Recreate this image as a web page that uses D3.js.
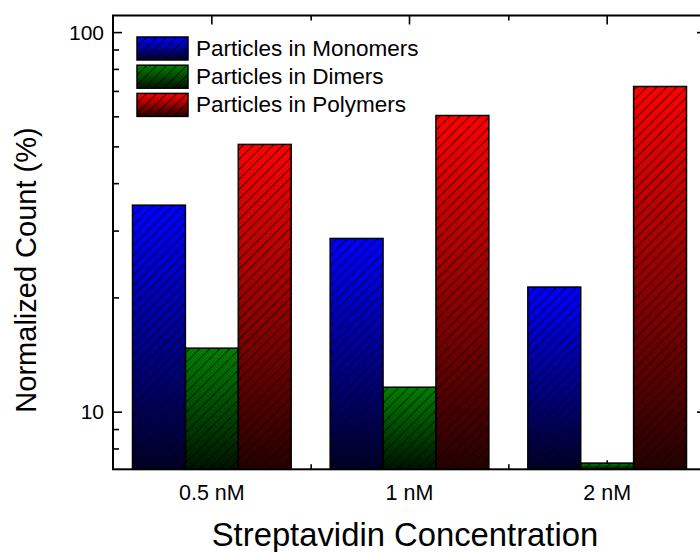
<!DOCTYPE html>
<html>
<head>
    <script src="https://d3js.org/d3.v7.min.js"></script>
    <style>
        body { margin: 0; background: #fff; }
        text { font-family: "Liberation Sans", Arial, sans-serif; fill: #000; }
    </style>
</head>
<body>
<div id="grafik"></div>

<script>
    // values
    var categories = ["0.5 nM", "1 nM", "2 nM"];
    var seriesNames = ["Particles in Monomers", "Particles in Dimers", "Particles in Polymers"];
    var seriesColors = ["#0000ff", "#008000", "#ff0000"];
    var monomers = [35.0, 28.6, 21.3];
    var dimers = [14.7, 11.6, 7.32];
    var polymers = [50.6, 60.3, 71.9];
    var yMajorTicks = [10, 100];

    var margin = { top: 15.5, right: -6, bottom: 82.7, left: 113 },
        width = 700 - margin.left - margin.right,
        height = 552 - margin.top - margin.bottom;

    var seriesValues = [monomers, dimers, polymers];
    var data = categories.map(function(c, i) {
        return { cat: c, vals: seriesValues.map(function(s, j) { return { key: seriesNames[j], idx: j, v: s[i] }; }) };
    });

    var svg = d3.select("#grafik")
        .append("svg")
        .attr("width", 700)
        .attr("height", 552);

    var defs = svg.append("defs");

    // gradients: full colour at top fading to almost black at bottom
    seriesColors.forEach(function(c, i) {
        var g = defs.append("linearGradient")
            .attr("id", "grad" + i)
            .attr("x1", 0).attr("y1", 0).attr("x2", 0).attr("y2", 1);
        g.append("stop").attr("offset", "0%").attr("stop-color", c);
        g.append("stop").attr("offset", "100%").attr("stop-color", d3.interpolateRgb(c, "#000")(0.85));
    });

    // diagonal hatch
    var hatch = defs.append("pattern")
        .attr("id", "hatch")
        .attr("patternUnits", "userSpaceOnUse")
        .attr("width", 10).attr("height", 10);
    hatch.append("path")
        .attr("d", "M-2,2 l4,-4 M0,10 l10,-10 M8,12 l4,-4")
        .attr("stroke", "#000")
        .attr("stroke-width", 1)
        .attr("fill", "none");

    var g = svg.append("g")
        .attr("transform", "translate(" + margin.left + "," + margin.top + ")");

    var x0 = d3.scaleBand()
        .domain(categories)
        .range([0, width])
        .padding(0);

    var x1 = d3.scaleBand()
        .domain(seriesNames)
        .range([19.5, x0.bandwidth() - 19.5])
        .padding(0);

    var yScale = d3.scaleLog()
        .domain([7.05, 110.6])
        .range([height, 0]);

    // minor y ticks
    var yMinor = [];
    [1, 10].forEach(function(base) {
        for (var k = 2; k <= 9; k++) {
            var v = base * k;
            if (v >= 7.05 && v <= 110.6) yMinor.push(v);
        }
    });

    // y axis left (inward ticks)
    var yAxisL = d3.axisRight(yScale)
        .tickValues(yMajorTicks)
        .tickSize(9)
        .tickFormat("");
    g.append("g").attr("class", "y-axis").call(yAxisL);
    var yAxisLm = d3.axisRight(yScale).tickValues(yMinor).tickSize(6).tickFormat("");
    g.append("g").call(yAxisLm);

    // y axis right (inward ticks)
    var yAxisR = d3.axisLeft(yScale).tickValues(yMajorTicks).tickSize(9).tickFormat("");
    g.append("g").attr("transform", "translate(" + width + ",0)").call(yAxisR);
    var yAxisRm = d3.axisLeft(yScale).tickValues(yMinor).tickSize(6).tickFormat("");
    g.append("g").attr("transform", "translate(" + width + ",0)").call(yAxisRm);

    // x axes: major ticks at centers, minor at boundaries
    var xAxisB = d3.axisTop(x0).tickSize(9).tickFormat("");
    g.append("g").attr("transform", "translate(0," + height + ")").call(xAxisB);
    var xAxisT = d3.axisBottom(x0).tickSize(9).tickFormat("");
    g.append("g").call(xAxisT);

    var bounds = categories.slice(1).map(function(c) { return x0(c); });
    var xb = d3.scaleLinear().domain([0, width]).range([0, width]);
    g.append("g").attr("transform", "translate(0," + height + ")")
        .call(d3.axisTop(xb).tickValues(bounds).tickSize(5).tickFormat(""));
    g.append("g")
        .call(d3.axisBottom(xb).tickValues(bounds).tickSize(5).tickFormat(""));

    g.selectAll(".domain").remove();
    g.selectAll(".tick line").attr("stroke", "#000").attr("stroke-width", 1.6);

    // bars
    var groups = g.selectAll(".grp")
        .data(data)
        .enter()
        .append("g")
        .attr("transform", function(d) { return "translate(" + x0(d.cat) + ",0)"; });

    groups.selectAll(".bar")
        .data(function(d) { return d.vals; })
        .enter()
        .append("rect")
        .attr("x", function(d) { return x1(d.key); })
        .attr("y", function(d) { return yScale(d.v); })
        .attr("width", x1.bandwidth())
        .attr("height", function(d) { return height - yScale(d.v); })
        .attr("fill", function(d) { return "url(#grad" + d.idx + ")"; });

    groups.selectAll(".hatch")
        .data(function(d) { return d.vals; })
        .enter()
        .append("rect")
        .attr("x", function(d) { return x1(d.key); })
        .attr("y", function(d) { return yScale(d.v); })
        .attr("width", x1.bandwidth())
        .attr("height", function(d) { return height - yScale(d.v); })
        .attr("fill", "url(#hatch)")
        .attr("stroke", "#000")
        .attr("stroke-width", 1.5);

    // frame
    g.append("rect")
        .attr("width", width)
        .attr("height", height)
        .attr("fill", "none")
        .attr("stroke", "#000")
        .attr("stroke-width", 2);

    // y tick labels
    g.selectAll(".ylab")
        .data(yMajorTicks)
        .enter()
        .append("text")
        .attr("x", -9)
        .attr("y", function(d) { return yScale(d); })
        .attr("dy", "0.36em")
        .attr("text-anchor", "end")
        .style("font-size", "21px")
        .text(function(d) { return d; });

    // category labels
    g.selectAll(".xlab")
        .data(categories)
        .enter()
        .append("text")
        .attr("x", function(d) { return x0(d) + x0.bandwidth() / 2; })
        .attr("y", height + 31)
        .attr("text-anchor", "middle")
        .style("font-size", "21.5px")
        .text(function(d) { return d; });

    // axis titles
    svg.append("text")
        .attr("x", 405)
        .attr("y", 546)
        .attr("text-anchor", "middle")
        .style("font-size", "32.8px")
        .text("Streptavidin Concentration");

    svg.append("text")
        .attr("transform", "translate(36,270) rotate(-90)")
        .attr("text-anchor", "middle")
        .style("font-size", "29px")
        .text("Normalized Count (%)");

    // legend
    var legend = svg.append("g").attr("transform", "translate(137,37)");
    var items = legend.selectAll(".item")
        .data(seriesNames)
        .enter()
        .append("g")
        .attr("transform", function(d, i) { return "translate(0," + (i * 28.2) + ")"; });
    items.append("rect")
        .attr("width", 51).attr("height", 23)
        .attr("fill", function(d, i) { return "url(#grad" + i + ")"; });
    items.append("rect")
        .attr("width", 51).attr("height", 23)
        .attr("fill", "url(#hatch)")
        .attr("stroke", "#000")
        .attr("stroke-width", 1.5);
    items.append("text")
        .attr("x", 59)
        .attr("y", 19)
        .style("font-size", "22.5px")
        .text(function(d) { return d; });

</script>
</body>
</html>
